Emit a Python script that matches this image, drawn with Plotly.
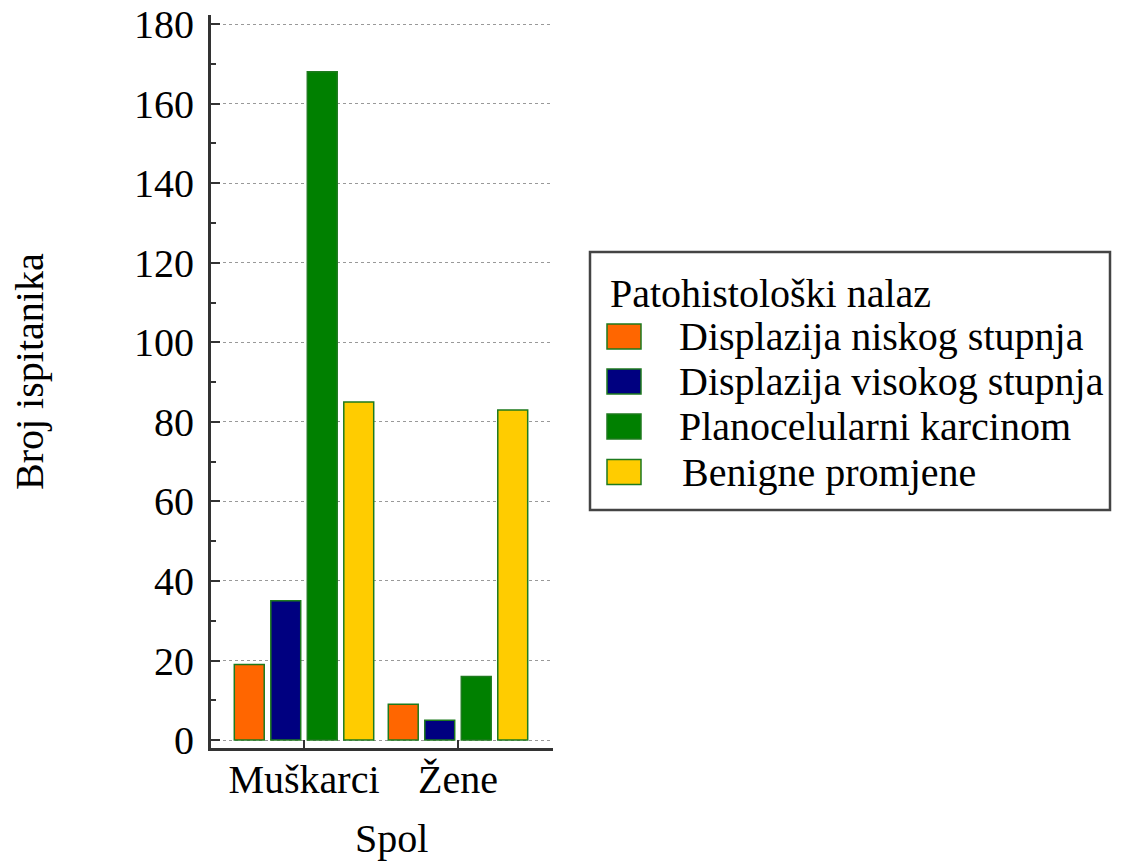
import plotly.graph_objects as go

categories = ["Muškarci", "Žene"]
series_names = ["Displazija niskog stupnja", "Displazija visokog stupnja",
                "Planocelularni karcinom", "Benigne promjene"]
niskog = [19, 9]
visokog = [35, 5]
karcinom = [168, 16]
benigne = [85, 83]
colors = ["#FF6600", "#000080", "#008000", "#FFCC00"]
legend_title = "Patohistološki nalaz"
x_title = "Spol"
y_title = "Broj ispitanika"

FONT = "Liberation Serif"
FS = 40
OFF = 8  # default page body margin
W, H = 1145 - OFF, 861 - OFF
# plot area in page pixels
L, R, T, B = 211, 553, 15, 748


def px(x):
    return (x - L) / (R - L)


def py(y):
    return (B - y) / (B - T)


fig = go.Figure()
for name, vals, col in zip(series_names, [niskog, visokog, karcinom, benigne], colors):
    fig.add_trace(go.Bar(
        x=categories, y=vals, name=name, showlegend=False,
        marker=dict(color=col, line=dict(color="#1E7A1E", width=1.5)),
    ))

fig.update_layout(
    width=W, height=H,
    paper_bgcolor="white", plot_bgcolor="white",
    margin=dict(l=L - OFF, r=W - (R - OFF), t=T - OFF, b=H - (B - OFF), autoexpand=False),
    barmode="group", bargap=0.052, bargroupgap=0.18,
    font=dict(family=FONT, size=FS, color="black"),
    showlegend=False,
)
fig.update_xaxes(
    type="category", range=[-0.604, 1.617], automargin=False,
    showline=True, linecolor="#333", linewidth=3,
    ticks="inside", ticklen=8, tickwidth=2, tickcolor="#333",
    showgrid=False, zeroline=False,
    tickfont=dict(family=FONT, size=FS),
    ticklabelstandoff=-6,
)
fig.update_yaxes(
    range=[-2, 182.3], automargin=False,
    tickvals=list(range(0, 181, 20)),
    ticklabeloverflow="allow",
    showline=True, linecolor="#333", linewidth=3,
    ticks="inside", ticklen=9, tickwidth=2, tickcolor="#333",
    minor=dict(tickvals=list(range(10, 180, 20)), ticks="inside", ticklen=5,
               tickwidth=1.5, tickcolor="#333", showgrid=False),
    showgrid=True, gridcolor="#999", griddash="dot", gridwidth=1,
    zeroline=False,
    tickfont=dict(family=FONT, size=FS),
    ticklabelstandoff=6,
)

# axis titles
fig.add_annotation(text=x_title, xref="paper", yref="paper", x=px(391), y=py(838),
                   showarrow=False, xanchor="center", yanchor="middle",
                   font=dict(family=FONT, size=FS))
fig.add_annotation(text=y_title, xref="paper", yref="paper", x=px(30), y=py(371),
                   showarrow=False, xanchor="center", yanchor="middle", textangle=-90,
                   font=dict(family=FONT, size=FS))

# legend box
fig.add_shape(type="rect", xref="paper", yref="paper",
              x0=px(590), x1=px(1110), y0=py(510), y1=py(252),
              line=dict(color="#444", width=2.5), fillcolor="white", layer="above")
fig.add_annotation(text=legend_title, xref="paper", yref="paper", x=px(608), y=py(293),
                   showarrow=False, xanchor="left", yanchor="middle",
                   font=dict(family=FONT, size=FS))
row_y = [336.5, 381.5, 426.5, 472]
text_x = [677, 677, 677, 680]
for name, col, ry, tx in zip(series_names, colors, row_y, text_x):
    fig.add_shape(type="rect", xref="paper", yref="paper",
                  x0=px(607), x1=px(641), y0=py(ry + 12.5), y1=py(ry - 12.5),
                  line=dict(color="#1E7A1E", width=1.5), fillcolor=col, layer="above")
    fig.add_annotation(text=name, xref="paper", yref="paper", x=px(tx), y=py(ry),
                       showarrow=False, xanchor="left", yanchor="middle",
                       font=dict(family=FONT, size=FS))

fig.write_html("out.html")
